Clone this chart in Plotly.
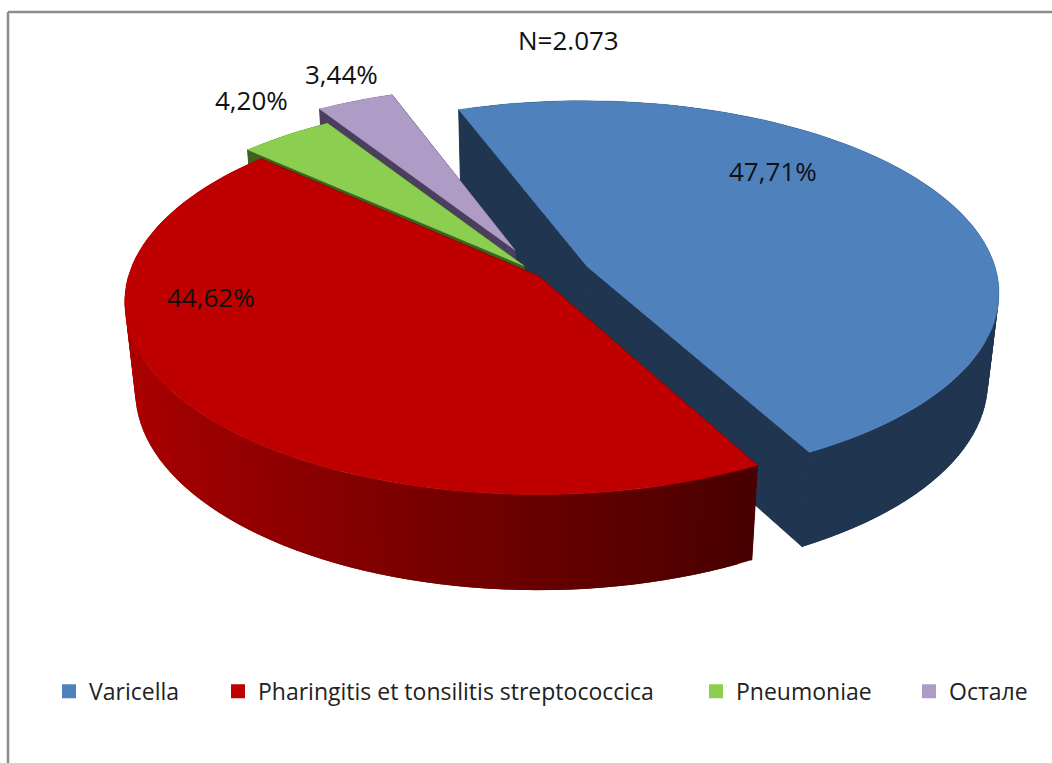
import numpy as np
import plotly.graph_objects as go

categories = ["Varicella", "Pharingitis et tonsilitis streptococcica", "Pneumoniae", "Остале"]
values = [47.71, 44.62, 4.20, 3.44]
top_colors = ["#4F81BD", "#BE0000", "#8CCF50", "#AF9CC6"]
cut_colors = ["#1F3550", "#5A0000", "#3F6020", "#4B3F5E"]
pulls = [0.097, 0.03, 0.05, 0.09]
nudges = [(2, 2), (0, 1), (-12, 1), (-18, -7)]
label_xy = [(773, 171), (211, 297), (251, 100), (341, 74)]
legend_x = [49, 218, 696, 909]
draw_order = [0, 3, 2, 1]
note = "N=2.073"

START = -20.0
CX, CY, RX, RY, K, M, H = 549, 272, 410, 189, 0.129, 0.025, 91
FONT = "Open Sans"


def project(u, v, z=0.0, nudge=(0, 0)):
    w = 1 + K * np.asarray(v) + M * z
    return CX + RX * np.asarray(u) / w + nudge[0], CY - RY * np.asarray(v) / w + H * z / w + nudge[1]


def poly(fig, x, y, color, lw=1.0):
    fig.add_trace(go.Scatter(x=list(x) + [x[0]], y=list(y) + [y[0]], mode="lines", fill="toself",
                             fillcolor=color, line=dict(color=color, width=lw),
                             hoverinfo="skip", showlegend=False))


fig = go.Figure()
edges = np.cumsum([START] + [v * 3.6 for v in values])

for i in draw_order:
    a0, a1 = edges[i], edges[i + 1]
    mid = np.radians((a0 + a1) / 2)
    ox, oy = pulls[i] * np.sin(mid), pulls[i] * np.cos(mid)
    th = np.radians(np.linspace(a0, a1, max(int((a1 - a0) / 2.0), 4)))
    u, v = np.sin(th) + ox, np.cos(th) + oy
    nd = nudges[i]
    # radial cut faces
    for uu, vv in [(u[0], v[0]), (u[-1], v[-1])]:
        xs, ys = project(np.array([ox, uu]), np.array([oy, vv]), 0, nd)
        xb, yb = project(np.array([uu, ox]), np.array([vv, oy]), 1, nd)
        poly(fig, np.r_[xs, xb], np.r_[ys, yb], cut_colors[i])
    # outer wall, in overlapping strips so that no seams show
    for j in range(len(th) - 1):
        e = min(j + 3, len(th))
        seg_u, seg_v = u[j:e], v[j:e]
        xs, ys = project(seg_u, seg_v, 0, nd)
        xb, yb = project(seg_u[::-1], seg_v[::-1], 1, nd)
        if i == 1:
            t = np.clip((u[j] + 1) / 1.5, 0, 1)
            col = f"rgb({int(172 - t * 102)},0,0)"
        else:
            col = cut_colors[i]
        poly(fig, np.r_[xs, xb], np.r_[ys, yb], col, lw=0)
    # top face
    xt, yt = project(np.r_[ox, u], np.r_[oy, v], 0, nd)
    poly(fig, xt, yt, top_colors[i], lw=0.5)

legend_layout = {}
for n, (name, col, lx) in enumerate(zip(categories, top_colors, legend_x)):
    key = "legend" if n == 0 else f"legend{n + 1}"
    fig.add_trace(go.Scatter(x=[None], y=[None], mode="markers", name=name, legend=key,
                             marker=dict(symbol="square", size=14, color=col)))
    legend_layout[key] = dict(orientation="h", x=lx / 1052, y=0.094, xanchor="left", yanchor="middle",
                              font=dict(size=23, family=FONT, color="#222222"), itemwidth=30,
                              bgcolor="rgba(0,0,0,0)")

for val, (lx, ly) in zip(values, label_xy):
    fig.add_annotation(x=lx, y=ly, text=f"{val:.2f}%".replace(".", ","), showarrow=False,
                       font=dict(size=26, color="#111111", family=FONT))
fig.add_annotation(x=568, y=40, text=note, showarrow=False, font=dict(size=26, color="#111111", family=FONT))

frame = dict(color="#8C8C8C", width=2.5)
fig.add_shape(type="line", x0=8, x1=1052, y0=12, y1=12, line=frame)
fig.add_shape(type="line", x0=8, x1=8, y0=12, y1=763, line=frame)

fig.update_layout(
    width=1052, height=763, margin=dict(l=0, r=0, t=0, b=0),
    paper_bgcolor="white", plot_bgcolor="white",
    xaxis=dict(range=[0, 1052], visible=False, fixedrange=True),
    yaxis=dict(range=[763, 0], visible=False, fixedrange=True),
    **legend_layout,
)
fig.write_html("out.html", config={"displayModeBar": False},
               post_script="document.body.style.margin='0';document.body.style.overflow='hidden';")
